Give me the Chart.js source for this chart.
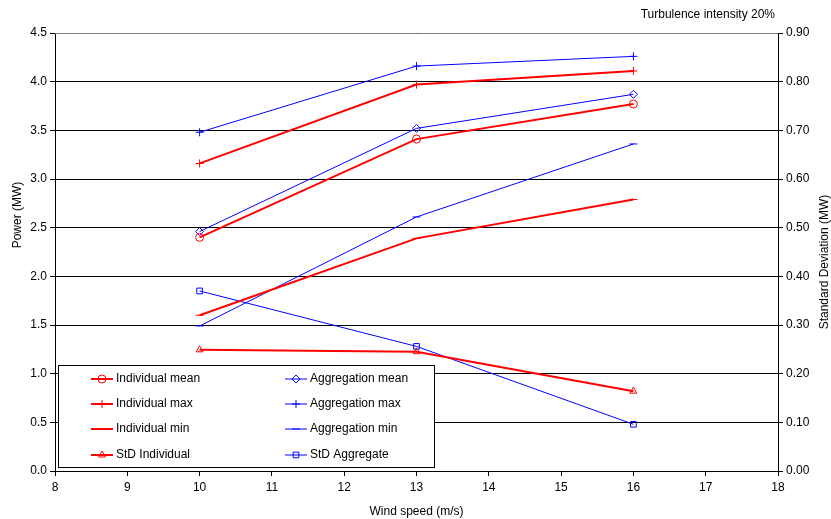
<!DOCTYPE html>
<html>
<head>
<meta charset="utf-8">
<script src="https://cdn.jsdelivr.net/npm/chart.js@4.4.0/dist/chart.umd.min.js"></script>
<style>
 html,body{margin:0;padding:0;background:#fff;}
 #wrap{width:831px;height:519px;}
</style>
</head>
<body>
<div id="wrap"><canvas id="chart" width="831" height="519"></canvas></div>
<script>
const windSpeed = [10, 13, 16];
const indMean = [2.40, 3.41, 3.77];
const aggMean = [2.46, 3.52, 3.87];
const indMax = [3.16, 3.97, 4.11];
const aggMax = [3.48, 4.16, 4.26];
const indMin = [1.60, 2.39, 2.79];
const aggMin = [1.49, 2.61, 3.36];
const stdInd = [0.249, 0.245, 0.164];
const stdAgg = [0.370, 0.256, 0.096];

const RED = '#ff0000', BLUE = '#0000ff';
const FONT = '"Liberation Sans", Arial, sans-serif';

function pts(vals){ return vals.map((v,i)=>({x:windSpeed[i], y:v})); }

function series(label, vals, color, style, width, axis){
 return {
   label: label,
   data: pts(vals),
   borderColor: color,
   backgroundColor: '#ffffff',
   borderWidth: width,
   pointStyle: style,
   pointRadius: 4,
   pointBorderColor: color,
   pointBackgroundColor: 'rgba(255,255,255,0)',
   pointBorderWidth: 1,
   yAxisID: axis,
   tension: 0
 };
}

const datasets = [
 series('Individual mean', indMean, RED, 'circle', 2, 'y'),
 series('Aggregation mean', aggMean, BLUE, 'rectRot', 1, 'y'),
 series('Individual max', indMax, RED, 'cross', 2, 'y'),
 series('Aggregation max', aggMax, BLUE, 'cross', 1, 'y'),
 series('Individual min', indMin, RED, 'line', 2, 'y'),
 series('Aggregation min', aggMin, BLUE, 'line', 1, 'y'),
 series('StD Individual', stdInd, RED, 'triangle', 2, 'y2'),
 series('StD Aggregate', stdAgg, BLUE, 'rect', 1, 'y2')
];

function vText(ctx, txt, x, y){
 ctx.save();
 ctx.translate(x, y);
 ctx.rotate(-Math.PI / 2);
 ctx.textAlign = 'center';
 ctx.textBaseline = 'middle';
 ctx.fillText(txt, 0, 0);
 ctx.restore();
}

// legend box drawn inside the plot, plus the top frame line, axis titles and corner title
const extras = {
 id: 'extras',
 afterDraw(chart){
   const ctx = chart.ctx, a = chart.chartArea;
   ctx.save();
   // top frame
   ctx.strokeStyle = '#808080';
   ctx.lineWidth = 1;
   ctx.beginPath();
   ctx.moveTo(a.left, a.top + 0.5);
   ctx.lineTo(a.right, a.top + 0.5);
   ctx.stroke();

   ctx.fillStyle = '#000';
   ctx.font = '12px ' + FONT;
   ctx.textAlign = 'right';
   ctx.textBaseline = 'middle';
   ctx.fillText('Turbulence intensity 20%', 775, 15);

   vText(ctx, 'Power (MW)', 18, 215);
   vText(ctx, 'Standard Deviation (MW)', 825, 262);

   // legend
   const bx = 58.5, by = 365.5, bw = 376, bh = 102;
   ctx.fillStyle = '#fff';
   ctx.fillRect(bx, by, bw, bh);
   ctx.strokeStyle = '#000';
   ctx.strokeRect(bx, by, bw, bh);
   const rows = [379, 404, 429, 455];
   const cols = [91, 285];
   ctx.textAlign = 'left';
   ctx.textBaseline = 'middle';
   ctx.font = '12px ' + FONT;
   chart.data.datasets.forEach((ds, i) => {
     const c = cols[i % 2], y = rows[Math.floor(i / 2)];
     ctx.strokeStyle = ds.borderColor;
     ctx.lineWidth = ds.borderWidth;
     ctx.beginPath();
     ctx.moveTo(c, y);
     ctx.lineTo(c + 22, y);
     ctx.stroke();
     if (Chart.helpers && Chart.helpers.drawPoint) {
       ctx.lineWidth = 1;
       ctx.strokeStyle = ds.borderColor;
       ctx.fillStyle = 'rgba(255,255,255,0)';
       Chart.helpers.drawPoint(ctx, {pointStyle: ds.pointStyle, radius: 4, rotation: 0, borderWidth: 1}, c + 11, y);
     }
     ctx.fillStyle = '#000';
     ctx.fillText(ds.label, c + 25, y);
   });
   ctx.restore();
 }
};

new Chart(document.getElementById('chart'), {
 type: 'line',
 data: { datasets: datasets },
 plugins: [extras],
 options: {
   responsive: false,
   animation: false,
   layout: { padding: { top: 33, left: 0, right: 0, bottom: 0 } },
   plugins: { legend: { display: false }, tooltip: { enabled: false } },
   scales: {
     x: {
       type: 'linear', min: 8, max: 18,
       ticks: { stepSize: 1, color: '#000', font: { family: FONT, size: 12 }, padding: 4 },
       grid: { drawOnChartArea: false, drawTicks: true, tickLength: 5, color: '#000' },
       border: { color: '#000' },
       title: { display: true, text: 'Wind speed (m/s)', color: '#000', font: { family: FONT, size: 12 }, padding: { top: 4, bottom: 0 } },
       afterFit(s){ s.height = 48; }
     },
     y: {
       position: 'left', min: 0, max: 4.5,
       ticks: { stepSize: 0.5, color: '#000', font: { family: FONT, size: 12 }, padding: 3, callback: v => Number(v).toFixed(1) },
       grid: { color: '#000', tickLength: 5, drawTicks: true },
       border: { color: '#000' },
       afterFit(s){ s.width = 55; }
     },
     y2: {
       position: 'right', min: 0, max: 0.9,
       ticks: { stepSize: 0.1, color: '#000', font: { family: FONT, size: 12 }, padding: 3, callback: v => Number(v).toFixed(2) },
       grid: { drawOnChartArea: false, tickLength: 5, color: '#000' },
       border: { color: '#000' },
       afterFit(s){ s.width = 53; }
     }
   }
 }
});
</script>
</body>
</html>
